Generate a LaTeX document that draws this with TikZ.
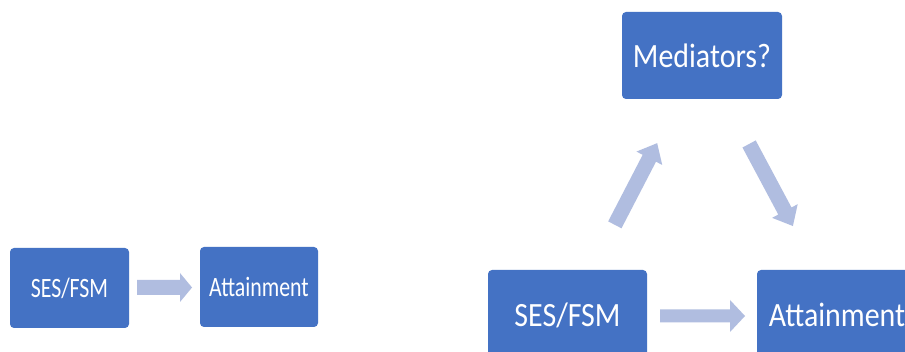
\documentclass[tikz,border=0pt]{standalone}
\usepackage{fontspec}
\setmainfont{Carlito}
\definecolor{boxblue}{HTML}{4472C4}
\definecolor{arrowblue}{HTML}{B0BDE0}
\tikzset{
  blockbox/.style={rectangle, rounded corners=4pt, fill=boxblue, text=white, inner sep=0pt},
  smalltext/.style={font=\fontsize{28}{30}\selectfont},
  bigtext/.style={font=\fontsize{34}{36}\selectfont},
  arrowfill/.style={fill=arrowblue, draw=none}
}
% #1 center, #2 angle (counterclockwise), #3 length, #4 shaft width, #5 head width, #6 head length
\newcommand\myblockarrow[6]{%
  \begin{scope}[shift={#1}, rotate=#2]
    \fill[arrowfill] (-#3/2,-#4/2) -- (#3/2-#6,-#4/2) -- (#3/2-#6,-#5/2) -- (#3/2,0)
      -- (#3/2-#6,#5/2) -- (#3/2-#6,#4/2) -- (-#3/2,#4/2) -- cycle;
  \end{scope}}
\begin{document}
\begin{tikzpicture}[x=1pt,y=-1pt]
\useasboundingbox (0,0) rectangle (905,352);
\clip (0,0) rectangle (905,352);
\fill[white] (0,0) rectangle (905,352);
% left pair
\node[blockbox, minimum width=119pt, minimum height=80pt, smalltext] (ses1) at (69.5,288) {\scalebox{0.78}[1]{SES/FSM}};
\node[blockbox, minimum width=118pt, minimum height=80pt, smalltext] (att1) at (259,287) {\scalebox{0.78}[1]{Attainment}};
\coordinate (a1) at (164.5,287.5);
\myblockarrow{(a1)}{0}{55}{15}{29}{12}
% right triangle
\node[blockbox, minimum width=160pt, minimum height=87pt, bigtext] (med) at (702,55.5) {\scalebox{0.88}[1]{Mediators?}};
\node[blockbox, minimum width=159pt, minimum height=90pt, bigtext] (ses2) at (567.5,315) {\scalebox{0.88}[1]{SES/FSM}};
\node[blockbox, minimum width=160pt, minimum height=90pt, bigtext] (att2) at (837,315) {\scalebox{0.88}[1]{Attainment}};
\coordinate (a2) at (702.5,316);
\myblockarrow{(a2)}{0}{85}{13}{32}{15}
\coordinate (a3) at (636,184);
\myblockarrow{(a3)}{62.6}{92}{15}{29}{17}
\coordinate (a4) at (771,185);
\myblockarrow{(a4)}{-61.9}{93}{15}{29}{17}
\end{tikzpicture}
\end{document}
